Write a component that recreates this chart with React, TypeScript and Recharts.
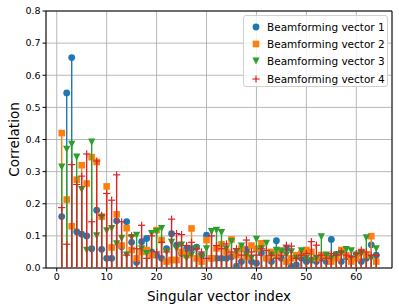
import React from "react";
import {
  ScatterChart,
  Scatter,
  XAxis,
  YAxis,
  CartesianGrid,
  ReferenceLine,
} from "recharts";

// --- Data (correlation per singular vector index) ---
const indices = [
  1, 2, 3, 4, 5, 6, 7, 8, 9, 10, 11, 12, 13, 14, 15, 16,
  17, 18, 19, 20, 21, 22, 23, 24, 25, 26, 27, 28, 29, 30, 31, 32,
  33, 34, 35, 36, 37, 38, 39, 40, 41, 42, 43, 44, 45, 46, 47, 48,
  49, 50, 51, 52, 53, 54, 55, 56, 57, 58, 59, 60, 61, 62, 63, 64,
];

const vector1 = [
  0.16, 0.545, 0.655, 0.113, 0.105, 0.1, 0.06, 0.18, 0.058, 0.03, 0.03, 0.147, 0.066, 0.144, 0.08, 0.018,
  0.082, 0.092, 0.05, 0.04, 0.03, 0.06, 0.107, 0.071, 0.045, 0.06, 0.06, 0.065, 0.04, 0.102, 0.03, 0.03,
  0.03, 0.03, 0.035, 0.006, 0.02, 0.058, 0.02, 0.015, 0.047, 0.03, 0.02, 0.085, 0.03, 0.061, 0.005, 0.01,
  0.03, 0.02, 0.025, 0.02, 0.03, 0.02, 0.089, 0.042, 0.02, 0.035, 0.03, 0.04, 0.02, 0.03, 0.072, 0.04,
];

const vector2 = [
  0.42, 0.213, 0.13, 0.275, 0.32, 0.263, 0.345, 0.33, 0.16, 0.254, 0.064, 0.167, 0.07, 0.124, 0.056, 0.03,
  0.05, 0.056, 0.04, 0.118, 0.087, 0.02, 0.025, 0.025, 0.05, 0.04, 0.123, 0.03, 0.02, 0.087, 0.03, 0.061,
  0.074, 0.05, 0.089, 0.04, 0.06, 0.035, 0.07, 0.06, 0.077, 0.03, 0.05, 0.04, 0.055, 0.02, 0.03, 0.04,
  0.045, 0.056, 0.05, 0.03, 0.04, 0.035, 0.02, 0.03, 0.056, 0.04, 0.02, 0.03, 0.05, 0.04, 0.099, 0.02,
];

const vector3 = [
  0.314, 0.369, 0.385, 0.345, 0.244, 0.055, 0.392, 0.1, 0.157, 0.116, 0.123, 0.075, 0.092, 0.04, 0.095, 0.102,
  0.06, 0.045, 0.107, 0.113, 0.123, 0.05, 0.08, 0.06, 0.071, 0.03, 0.04, 0.06, 0.035, 0.06, 0.113, 0.117,
  0.11, 0.06, 0.082, 0.05, 0.068, 0.04, 0.03, 0.089, 0.06, 0.077, 0.04, 0.055, 0.05, 0.04, 0.05, 0.03,
  0.053, 0.03, 0.02, 0.03, 0.097, 0.04, 0.03, 0.04, 0.045, 0.057, 0.053, 0.04, 0.045, 0.094, 0.03, 0.06,
];

const vector4 = [
  0.188, 0.074, 0.322, 0.26, 0.286, 0.355, 0.144, 0.333, 0.164, 0.232, 0.211, 0.29, 0.144, 0.04, 0.1, 0.06,
  0.133, 0.03, 0.1, 0.05, 0.08, 0.05, 0.152, 0.107, 0.104, 0.07, 0.08, 0.06, 0.05, 0.03, 0.1, 0.07,
  0.06, 0.075, 0.05, 0.06, 0.04, 0.087, 0.05, 0.04, 0.06, 0.055, 0.04, 0.03, 0.04, 0.071, 0.068, 0.03,
  0.04, 0.045, 0.082, 0.071, 0.04, 0.03, 0.045, 0.04, 0.05, 0.04, 0.035, 0.045, 0.056, 0.05, 0.04, 0.04,
];

const seriesNames = [
  "Beamforming vector 1",
  "Beamforming vector 2",
  "Beamforming vector 3",
  "Beamforming vector 4",
];

const xTicks = [0, 10, 20, 30, 40, 50, 60];
const yTicks = [0, 0.1, 0.2, 0.3, 0.4, 0.5, 0.6, 0.7, 0.8];

// --- Layout ---
const W = 399;
const H = 308;
const Y_AXIS_W = 46;
const X_AXIS_H = 40;
const BASE_Y = H - X_AXIS_H; // pixel row of y = 0
const FONT = "'DejaVu Sans', sans-serif";

const COLORS = ["#1f77b4", "#ff7f0e", "#2ca02c", "#d62728"];
type Marker = "circle" | "square" | "tri" | "plus";
const MARKERS: Marker[] = ["circle", "square", "tri", "plus"];

const toPoints = (values: number[]) =>
  values.map((v, k) => ({ x: indices[k], y: v }));

const allSeries = [vector1, vector2, vector3, vector4].map(toPoints);

// draws a marker centred on (cx, cy)
function MarkerGlyph({ kind, cx, cy, color }: { kind: Marker; cx: number; cy: number; color: string }) {
  if (kind === "circle") return <circle cx={cx} cy={cy} r={3.4} fill={color} />;
  if (kind === "square")
    return <rect x={cx - 3.3} y={cy - 3.3} width={6.6} height={6.6} fill={color} />;
  if (kind === "tri")
    return (
      <polygon
        points={`${cx - 3.6},${cy - 3.6} ${cx + 3.6},${cy - 3.6} ${cx},${cy + 3.6}`}
        fill={color}
      />
    );
  return (
    <g stroke={color} strokeWidth={1.2}>
      <line x1={cx - 3.6} x2={cx + 3.6} y1={cy} y2={cy} />
      <line x1={cx} x2={cx} y1={cy - 3.6} y2={cy + 3.6} />
    </g>
  );
}

const stemShape = (color: string) => (props: any) =>
  (
    <line
      x1={props.cx}
      x2={props.cx}
      y1={props.cy}
      y2={BASE_Y}
      stroke={color}
      strokeWidth={1.4}
    />
  );

const markerShape = (kind: Marker, color: string) => (props: any) =>
  <MarkerGlyph kind={kind} cx={props.cx} cy={props.cy} color={color} />;

const tickStyle = { fill: "#000", fontSize: 9.5, fontFamily: FONT };

function LegendBox() {
  return (
    <div
      style={{
        position: "absolute",
        left: 243,
        top: 15,
        width: 145,
        height: 72,
        boxSizing: "border-box",
        background: "rgba(255,255,255,0.8)",
        border: "1px solid #d0d0d0",
        borderRadius: 3,
        fontFamily: FONT,
        fontSize: 10.5,
        color: "#000",
        paddingTop: 2,
      }}
    >
      {seriesNames.map((name, k) => (
        <div
          key={name}
          style={{ display: "flex", alignItems: "center", height: 17.3, whiteSpace: "nowrap" }}
        >
          <svg width={23} height={12} style={{ flex: "none" }}>
            <MarkerGlyph kind={MARKERS[k]} cx={12} cy={6} color={COLORS[k]} />
          </svg>
          <span>{name}</span>
        </div>
      ))}
    </div>
  );
}

export default function App() {
  return (
    <div style={{ position: "fixed", left: 0, top: 0, width: W, height: H, background: "#fff" }}>
      <ScatterChart width={W} height={H} margin={{ top: 11, right: 7, bottom: 0, left: 0 }}>
        <CartesianGrid stroke="#b0b0b0" strokeWidth={0.9} />
        <XAxis
          type="number"
          dataKey="x"
          domain={[-2.15, 67.15]}
          ticks={xTicks}
          height={X_AXIS_H}
          stroke="#000"
          tickSize={3.5}
          tick={tickStyle}
          allowDataOverflow
          label={{
            value: "Singular vector index",
            position: "center",
            dy: 8,
            style: { fontSize: 13.5, fontFamily: FONT, fill: "#000" },
          }}
        />
        <YAxis
          type="number"
          dataKey="y"
          domain={[0, 0.8]}
          ticks={yTicks}
          width={Y_AXIS_W}
          stroke="#000"
          tickSize={3.5}
          tick={tickStyle}
          tickFormatter={(v: number) => v.toFixed(1)}
          allowDataOverflow
          label={{
            value: "Correlation",
            angle: -90,
            position: "center",
            dx: -9,
            style: { fontSize: 13.5, fontFamily: FONT, fill: "#000", textAnchor: "middle" },
          }}
        />
        {allSeries.map((pts, k) => [
          <Scatter
            key={`stem-${k}`}
            data={pts}
            shape={stemShape(COLORS[k])}
            isAnimationActive={false}
          />,
          <Scatter
            key={`mark-${k}`}
            name={seriesNames[k]}
            data={pts}
            shape={markerShape(MARKERS[k], COLORS[k])}
            isAnimationActive={false}
          />,
        ])}
        <ReferenceLine y={0.8} stroke="#000" strokeWidth={1} />
        <ReferenceLine x={67.15} stroke="#000" strokeWidth={1} />
      </ScatterChart>
      <LegendBox />
    </div>
  );
}
